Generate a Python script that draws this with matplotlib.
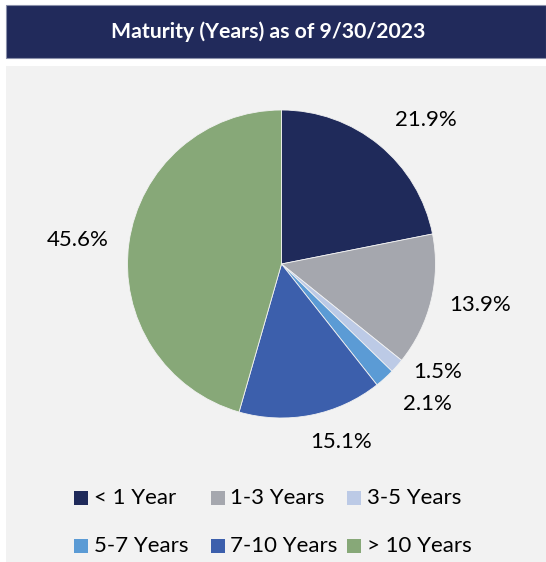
import numpy as np
import matplotlib.pyplot as plt
from matplotlib.patches import Rectangle

plt.rcParams['font.family'] = ['Lato', 'DejaVu Sans']

# data
categories = ['< 1 Year', '1-3 Years', '3-5 Years', '5-7 Years', '7-10 Years', '> 10 Years']
shares = [21.9, 13.9, 1.5, 2.1, 15.1, 45.6]
colors = ['#1f2a5a', '#a5a7ae', '#bccae6', '#5b9bd5', '#3c5fac', '#87a878']
title = 'Maturity (Years) as of 9/30/2023'

# label placement tweaks (angle shift in deg, distance in radii)
label_shift = [-5.7, 2.0, 6.8, 4.1, 7.4, 1.3]
label_dist = [1.32, 1.32, 1.23, 1.31, 1.22, 1.33]

W, H = 546, 562
fig = plt.figure(figsize=(W / 100, H / 100), dpi=100)
fig.patch.set_facecolor('white')

def px(x, y):
    return x / W, 1 - y / H

# header bar and panel
x0, y0 = px(6, 58)
fig.patches.append(Rectangle((x0, y0), 1 - x0, 53 / H, transform=fig.transFigure,
                             facecolor='#212a5b', edgecolor='#8a90aa', linewidth=0.8, zorder=-2))
x0, y0 = px(6, H)
fig.patches.append(Rectangle((x0, y0), 1 - x0, (H - 66) / H, transform=fig.transFigure,
                             facecolor='#f2f2f2', edgecolor='none', zorder=-2))
tx, ty = px(268, 32)
fig.text(tx, ty, title, color='white', fontsize=15.3, fontweight='bold', ha='center', va='center')

# pie
cx, cy, r = 281.5, 264, 154
ax = fig.add_axes([(cx - r) / W, 1 - (cy + r) / H, 2 * r / W, 2 * r / H])
ax.set_zorder(2)
ax.set_facecolor('none')
wedges, texts = ax.pie(shares, colors=colors, startangle=90, counterclock=False, radius=1,
                       labels=[f'{s:.1f}%' for s in shares], labeldistance=1.3,
                       wedgeprops=dict(edgecolor='#f2f2f2', linewidth=0.6),
                       textprops=dict(fontsize=16, color='black', ha='center', va='center'))
for w, t, sh, d in zip(wedges, texts, label_shift, label_dist):
    ang = np.deg2rad((w.theta1 + w.theta2) / 2 + sh)
    t.set_position((d * np.cos(ang), d * np.sin(ang)))
ax.set_xlim(-1, 1)
ax.set_ylim(-1, 1)
ax.axis('off')

# legend (3 columns, fixed column width)
for i, (cat, col) in enumerate(zip(categories, colors)):
    row, c = divmod(i, 3)
    lx = 74 + c * 136.5
    ly = 498 + row * 48
    bx, by = px(lx, ly + 7)
    fig.patches.append(Rectangle((bx, by), 14 / W, 14 / H, transform=fig.transFigure,
                                 facecolor=col, edgecolor='none'))
    tx, ty = px(lx + 20, ly)
    fig.text(tx, ty, cat, fontsize=16, color='black', ha='left', va='center')

plt.savefig('out.png', dpi=100, facecolor=fig.get_facecolor())
